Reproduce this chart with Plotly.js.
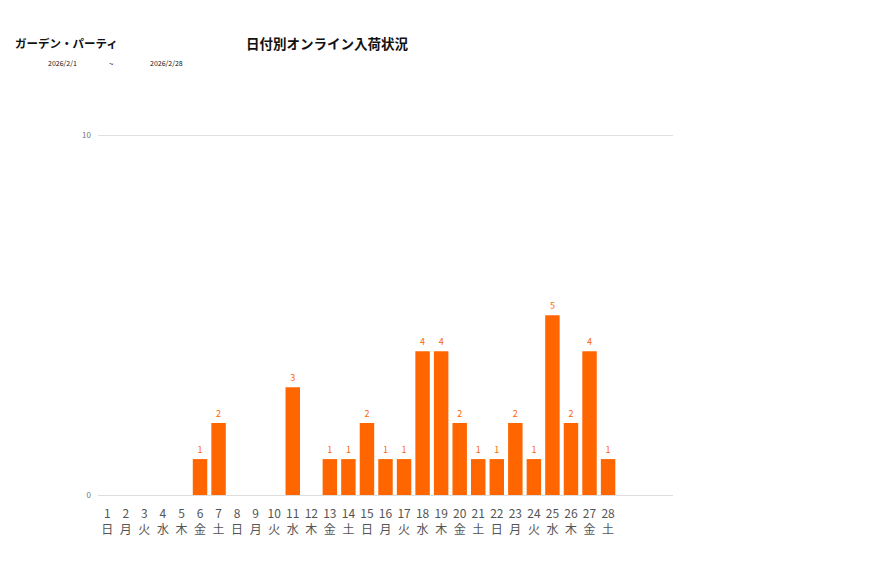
<!DOCTYPE html>
<html>
<head>
<meta charset="utf-8">
<script src="https://cdn.plot.ly/plotly-3.0.1.min.js"></script>
<style>
  body { margin: 0; background: #fff; }
  #chart { width: 877px; height: 578px; }
</style>
</head>
<body>
<div id="chart"></div>
<script>
// 日付 (2026年2月) と曜日
var days = [1, 2, 3, 4, 5, 6, 7, 8, 9, 10, 11, 12, 13, 14, 15, 16, 17, 18, 19, 20, 21, 22, 23, 24, 25, 26, 27, 28];
var weekdays = ['日', '月', '火', '水', '木', '金', '土', '日', '月', '火', '水', '木', '金', '土',
                '日', '月', '火', '水', '木', '金', '土', '日', '月', '火', '水', '木', '金', '土'];
// 入荷件数
var counts = [0, 0, 0, 0, 0, 1, 2, 0, 0, 0, 3, 0, 1, 1, 2, 1, 1, 4, 4, 2, 1, 1, 2, 1, 5, 2, 4, 1];
var yTicks = [0, 10];

var shopName = 'ガーデン・パーティ';
var chartTitle = '日付別オンライン入荷状況';
var dateFrom = '2026/2/1';
var dateTo = '2026/2/28';

var barColor = '#ff6600';
var font = '"Noto Sans CJK JP", "Noto Sans", sans-serif';

var tickText = days.map(function(d, i) { return d + '<br>' + weekdays[i]; });
var barText = counts.map(function(c) { return c > 0 ? String(c) : ''; });

var trace = {
    type: 'bar',
    x: days,
    y: counts,
    text: barText,
    textposition: 'outside',
    cliponaxis: false,
    textfont: { color: barColor, size: 9, family: font },
    marker: { color: barColor },
    hoverinfo: 'none'
};

// 上部の見出し (プロット領域基準の座標)
function label(text, x, y, size, anchor, bold) {
    return {
        text: bold ? '<b>' + text + '</b>' : text,
        xref: 'paper', yref: 'paper',
        x: x, y: y,
        xanchor: anchor, yanchor: 'middle',
        showarrow: false,
        font: { family: font, size: size, color: '#111' }
    };
}

var layout = {
    width: 877,
    height: 578,
    margin: { l: 98, r: 204, t: 132, b: 83 },
    paper_bgcolor: '#fff',
    plot_bgcolor: '#fff',
    showlegend: false,
    bargap: 0.22,
    font: { family: font },
    xaxis: {
        range: [0.5, 31.5],
        tickvals: days,
        ticktext: tickText,
        tickfont: { size: 12, color: '#555', family: font },
        ticklabelstandoff: 8,
        showgrid: false,
        zeroline: false,
        showline: true,
        linecolor: '#dddddd',
        linewidth: 1,
        ticks: '',
        fixedrange: true
    },
    yaxis: {
        range: [0, 10.1],
        tickvals: yTicks,
        tickfont: { size: 8, color: '#777', family: font },
        gridcolor: '#e0e0e0',
        zeroline: false,
        showline: false,
        ticks: '',
        ticklabelstandoff: 6,
        fixedrange: true
    },
    annotations: [
        label(shopName, -0.148, 1.245, 11.5, 'left', true),
        label(chartTitle, 0.254, 1.245, 13.5, 'left', true),
        label(dateFrom, -0.090, 1.190, 7, 'left', false),
        label('~', 0.024, 1.190, 8, 'center', false),
        label(dateTo, 0.087, 1.190, 7, 'left', false)
    ]
};

Plotly.newPlot('chart', [trace], layout, { displayModeBar: false, staticPlot: true });
</script>
</body>
</html>
